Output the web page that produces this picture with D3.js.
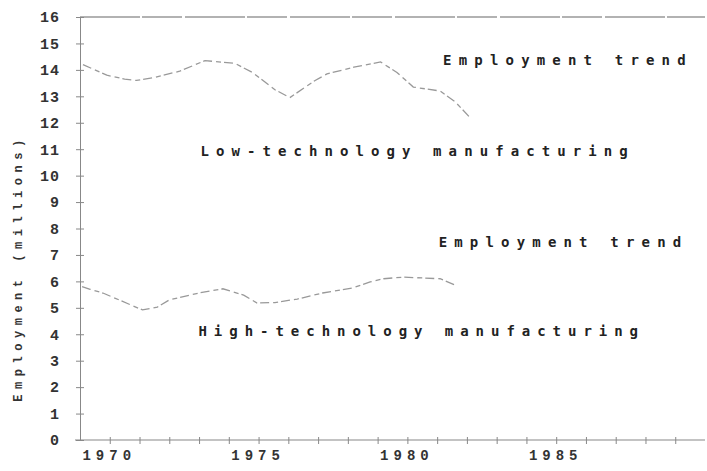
<!DOCTYPE html>
<html><head><meta charset="utf-8">
<script src="https://cdn.jsdelivr.net/npm/d3@7"></script>
<style>
html,body{margin:0;padding:0;background:#fff;}
svg{display:block;}
</style></head>
<body>
<svg id="chart" width="707" height="471"></svg>
<script>
// ---- data ----
const lowYears  = [1969.1,1969.9,1970.5,1970.9,1971.45,1972.35,1973.2,1974.2,1974.8,1975.55,1976.05,1976.9,1977.3,1978.2,1979.1,1979.65,1980.2,1981.1,1981.6,1982.1];
const lowValues = [14.2,13.8,13.65,13.6,13.7,13.95,14.35,14.25,13.9,13.25,12.95,13.6,13.85,14.1,14.3,13.9,13.35,13.2,12.8,12.2];
const highYears  = [1969.07,1969.34,1969.77,1971.1,1971.6,1972.0,1973.0,1973.8,1974.15,1974.5,1974.95,1975.55,1976.3,1977.15,1978.15,1978.75,1979.2,1979.85,1981.1,1981.6];
const highValues = [5.8,5.7,5.56,4.92,5.03,5.3,5.56,5.72,5.6,5.48,5.18,5.2,5.33,5.56,5.75,5.98,6.1,6.16,6.1,5.86];
const yTicks = d3.range(0,17);
const xLabelTicks = [1970,1975,1980,1985];
const xMinorTicks = d3.range(1970,1990);
const yTitle = "Employment (millions)";
const labels = [
  {text:"Employment trend", year:1981.2, value:14.2, endYear:1989.35},
  {text:"Low-technology manufacturing", year:1973.05, value:10.74, endYear:1987.4},
  {text:"Employment trend", year:1981.05, value:7.3, endYear:1989.2},
  {text:"High-technology manufacturing", year:1972.98, value:3.95, endYear:1987.75}
];

// ---- layout ----
const svg = d3.select("#chart");
const x = d3.scaleLinear().domain([1969,1990]).range([80,705]);
const y = d3.scaleLinear().domain([0,16]).range([440,17]);
const ink = "#333";
const axisCol = "#888";
const mono = "'Liberation Mono','DejaVu Sans Mono',monospace";
const mono2 = "'DejaVu Sans Mono','Liberation Mono',monospace";

// top border line
svg.append("line").attr("x1",x(1969)).attr("x2",x(1990)).attr("y1",y(16)).attr("y2",y(16))
  .attr("stroke","#999").attr("stroke-width",1.3).attr("stroke-dasharray","60,2,40,3");

// y axis
const yAxis = d3.axisLeft(y).tickValues(yTicks).tickSize(4).tickFormat(d3.format("d"));
const gy = svg.append("g").attr("transform",`translate(${x(1969)},0)`).call(yAxis);
gy.select(".domain").attr("stroke",axisCol).attr("stroke-width",1);
gy.selectAll(".tick line").attr("stroke",axisCol).attr("x2",4).attr("x1",-4);
gy.selectAll(".tick text").attr("x",-20).attr("fill",ink)
  .style("font-family",mono).style("font-weight","bold").style("font-size","15px")
  .style("letter-spacing","1px");

// x axis
const xAxis = d3.axisBottom(x).tickValues(xMinorTicks).tickSize(4)
  .tickFormat(d => xLabelTicks.includes(d) ? d : "");
const gx = svg.append("g").attr("transform",`translate(0,${y(0)})`).call(xAxis);
gx.select(".domain").attr("stroke",axisCol).attr("stroke-width",1.2).attr("d",`M${x(1969)-5},0H${x(1990)}`);
gx.selectAll(".tick line").attr("stroke",axisCol).attr("y1",-3).attr("y2",4);
gx.selectAll(".tick text").attr("y",10).attr("dx","-1px").attr("fill",ink)
  .style("font-family",mono).style("font-weight","bold").style("font-size","14px")
  .style("letter-spacing","5px");

// y title
svg.append("text").attr("transform",`translate(22,${y(6.4)}) rotate(-90)`)
  .attr("text-anchor","middle").attr("fill",ink)
  .style("font-family",mono).style("font-weight","bold").style("font-size","12px")
  .attr("textLength",262).attr("lengthAdjust","spacing").text(yTitle);

// lines
const line = d3.line().x(d=>x(d[0])).y(d=>y(d[1]));
svg.append("path").datum(d3.zip(lowYears,lowValues)).attr("d",line)
  .attr("fill","none").attr("stroke","#999").attr("stroke-width",1.3)
  .attr("stroke-dasharray","9,4,5,3");
svg.append("path").datum(d3.zip(highYears,highValues)).attr("d",line)
  .attr("fill","none").attr("stroke","#999").attr("stroke-width",1.3)
  .attr("stroke-dasharray","9,4,5,3");

// text labels
labels.forEach(l=>{
  svg.append("text").attr("x",x(l.year)).attr("y",y(l.value)).attr("fill","#222")
    .style("font-family",mono2).style("font-weight","bold").style("font-size","14px")
    .attr("textLength",x(l.endYear)-x(l.year)).attr("lengthAdjust","spacing")
    .text(l.text);
});
</script>
</body></html>
